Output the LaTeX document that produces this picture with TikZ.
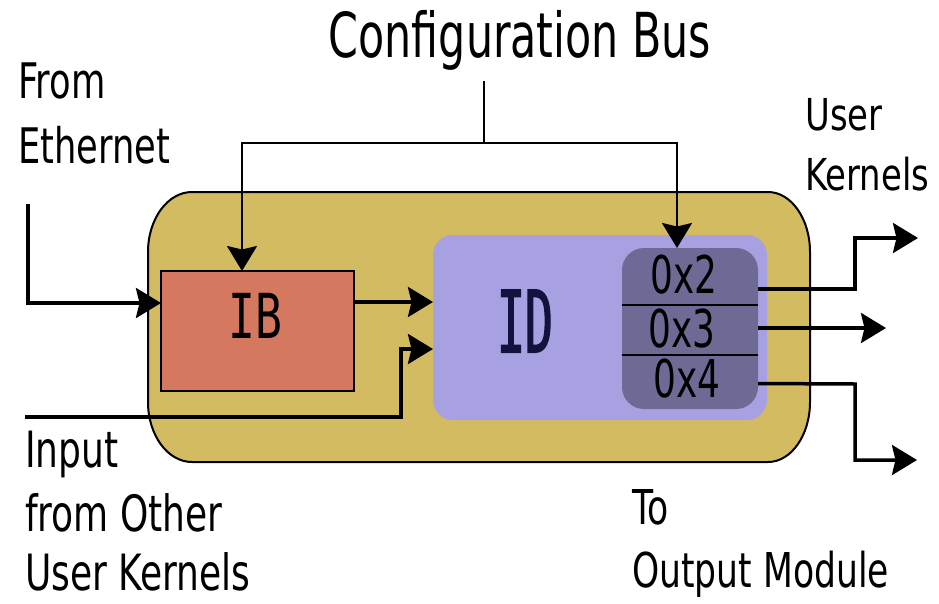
\documentclass[tikz,border=0pt]{standalone}
\usepackage{fontspec}
\setmainfont{DejaVu Sans}[FakeStretch=0.72]
\newfontfamily\titlefont{DejaVu Sans}[FakeStretch=0.69]
\newfontfamily\narrowsans{DejaVu Sans}[FakeStretch=0.77]
\newfontfamily\ibfont{DejaVu Sans Mono}[FakeStretch=0.72]
\newfontfamily\idfont{DejaVu Sans Mono}[FakeStretch=0.54,FakeBold=1.5]
\usetikzlibrary{arrows.meta}
\definecolor{shellgold}{HTML}{D3BB62}
\definecolor{ibred}{HTML}{D4785F}
\definecolor{idlav}{HTML}{A7A1E2}
\definecolor{regdark}{HTML}{6E6A96}
\definecolor{idnavy}{HTML}{12123C}
\begin{document}
\begin{tikzpicture}[x=1pt,y=-1pt,
  wire/.style={line width=3.5pt},
  arr/.style={wire,-{Stealth[length=25pt,width=30pt,inset=3.5pt]}},
  lbl/.style={anchor=base west,inner sep=0pt},
  blk/.style={inner sep=0pt,outer sep=0pt}]
\useasboundingbox (0,0) rectangle (939,603);

% module shell with elliptical corners
\draw[line width=2pt,fill=shellgold]
  (148,252) arc[start angle=180,end angle=90,x radius=44pt,y radius=60pt]
  -- (768,192) arc[start angle=90,end angle=0,x radius=42pt,y radius=60pt]
  -- (810,402) arc[start angle=0,end angle=-90,x radius=42pt,y radius=60pt]
  -- (192,462) arc[start angle=270,end angle=180,x radius=44pt,y radius=60pt]
  -- cycle;

% blocks
\node[blk,draw,line width=1.5pt,fill=ibred,
      minimum width=193pt,minimum height=120pt] (ib) at (257.5,331) {};
\node[blk,font=\ibfont\fontsize{62}{62}\selectfont] (ibt) at (255,316) {IB};
\node[blk,fill=idlav,rounded corners=20pt,
      minimum width=334pt,minimum height=185pt] (id) at (600,327.5) {};
\node[blk,text=idnavy,font=\idfont\fontsize{86}{86}\selectfont] (idt) at (525,321) {ID};
\node[blk,fill=regdark,rounded corners=22pt,
      minimum width=136pt,minimum height=161pt] (reg) at (690,328.5) {};
\draw[line width=2pt] ([yshift=-57pt]reg.north west) -- ([yshift=-57pt]reg.north east);
\draw[line width=2pt] ([yshift=-107pt]reg.north west) -- ([yshift=-107pt]reg.north east);
\node[blk,font=\titlefont\fontsize{52}{52}\selectfont] (r2) at (684,275) {0x2};
\node[blk,font=\titlefont\fontsize{52}{52}\selectfont] (r3) at (682,329) {0x3};
\node[blk,font=\titlefont\fontsize{52}{52}\selectfont] (r4) at (687,379) {0x4};

% labels
\node[anchor=base,inner sep=0pt,font=\titlefont\fontsize{62}{62}\selectfont] (cfg) at (520,57) {Configuration Bus};
\node[lbl,font=\fontsize{49}{49}\selectfont] (eth1) at (18,98) {From};
\node[lbl,font=\fontsize{49}{49}\selectfont] (eth2) at (18,163) {Ethernet};
\node[lbl,font=\narrowsans\fontsize{44}{44}\selectfont] (uk1) at (805,130) {User};
\node[lbl,font=\narrowsans\fontsize{44}{44}\selectfont] (uk2) at (805,190) {Kernels};
\node[lbl,font=\fontsize{50}{50}\selectfont] (in1) at (25,467) {Input};
\node[lbl,font=\fontsize{50}{50}\selectfont] (in2) at (25,531) {from Other};
\node[lbl,font=\fontsize{50}{50}\selectfont] (in3) at (25,590) {User Kernels};
\node[lbl,font=\fontsize{48}{48}\selectfont] (om1) at (632,524) {To};
\node[lbl,font=\fontsize{48}{48}\selectfont] (om2) at (632,587) {Output Module};

% free wire ends
\coordinate (ethsrc) at (28,204);
\coordinate (insrc) at (25,417);
\coordinate (bussrc) at (484,81);
\coordinate (busj) at (484,143);
\coordinate (uka) at (918,238);
\coordinate (ukb) at (886,328);
\coordinate (omc) at (917,460);

% configuration bus
\draw[line width=2pt] (bussrc) -- (busj);
\draw[arr,line width=2.5pt] (busj) -| ([xshift=-15.5pt]ib.north);
\draw[arr,line width=2.5pt] (busj) -| ([xshift=-13pt]reg.north);

% inputs
\draw[arr] (ethsrc) |- ([yshift=28pt]ib.west);
\draw[arr] ([yshift=29pt]ib.east) -- ([yshift=29pt]ib.east -| id.west);
\draw[arr] (insrc) -- (401,417) |- ([yshift=-21.5pt]id.west);

% outputs
\draw[arr] ([yshift=39.5pt]reg.east) -- (855,289) |- (uka);
\draw[arr] ([yshift=0.5pt]reg.east) -- (ukb);
\draw[arr] ([yshift=-55pt]reg.east) -- (855,384) |- (omc);
\end{tikzpicture}
\end{document}
